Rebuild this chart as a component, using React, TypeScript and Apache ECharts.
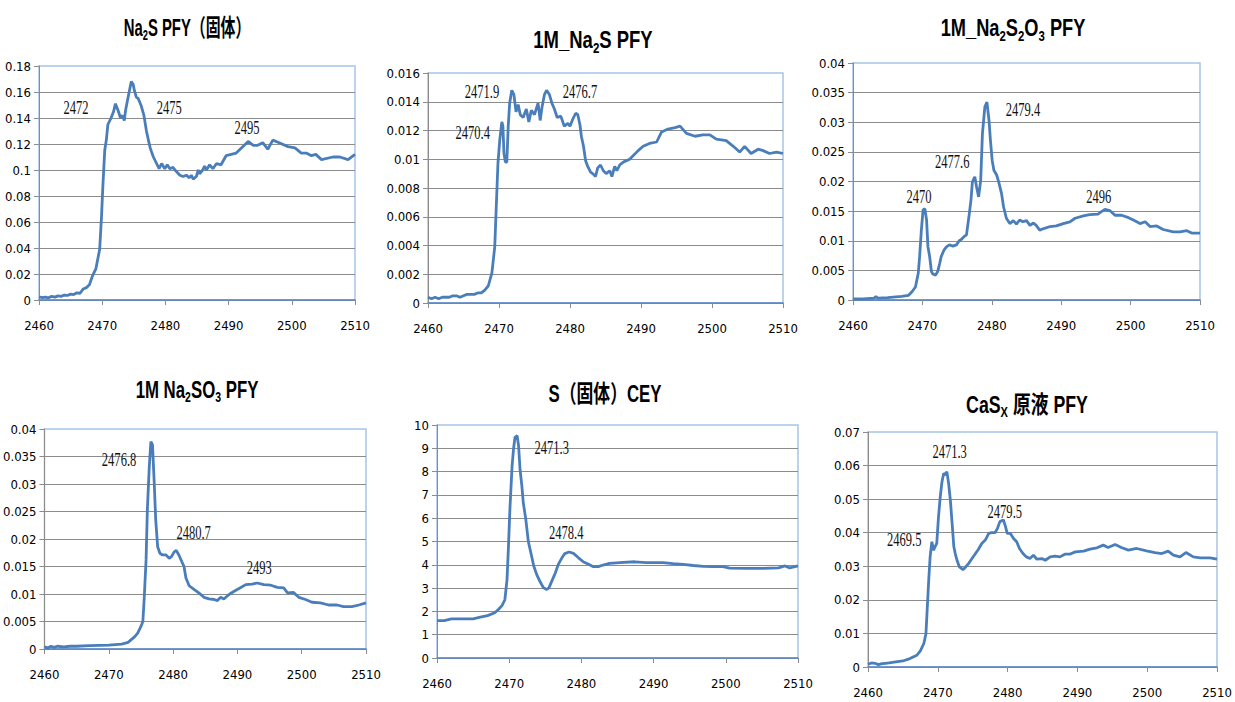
import React, { useEffect, useRef } from "react";
import * as echarts from "echarts";

// ---------- data ----------
const xTicks = { min: 2460, max: 2510, interval: 10 };

const na2sSolid: number[][] = [
  [2460, 0.0025], [2460.5, 0.0018], [2461, 0.0022], [2461.5, 0.0017], [2462, 0.0028], [2462.5, 0.0022], [2463, 0.0032], [2463.5, 0.0028],
  [2464, 0.0038], [2464.5, 0.0035], [2465, 0.0045], [2465.5, 0.0042], [2466, 0.0055], [2466.5, 0.0052], [2467, 0.0085], [2467.5, 0.0095],
  [2468, 0.012], [2468.5, 0.019], [2469, 0.024], [2469.6, 0.039], [2469.9, 0.065], [2470.1, 0.087], [2470.4, 0.115], [2470.65, 0.123],
  [2470.9, 0.135], [2471.4, 0.14], [2471.8, 0.145], [2472.1, 0.151], [2472.5, 0.146], [2472.9, 0.14], [2473.2, 0.142], [2473.5, 0.138],
  [2473.7, 0.146], [2474.1, 0.156], [2474.6, 0.168], [2474.9, 0.166], [2475.1, 0.161], [2475.4, 0.156], [2475.7, 0.155], [2476.2, 0.149],
  [2476.6, 0.142], [2477, 0.13], [2477.4, 0.121], [2477.6, 0.117], [2477.8, 0.114], [2478.1, 0.11], [2478.6, 0.105], [2479, 0.101],
  [2479.4, 0.105], [2479.9, 0.101], [2480.3, 0.104], [2480.7, 0.101], [2481.2, 0.102], [2481.7, 0.099], [2482.3, 0.096], [2482.8, 0.095],
  [2483.3, 0.096], [2483.8, 0.094], [2484.1, 0.096], [2484.4, 0.093], [2484.9, 0.095], [2485.2, 0.1], [2485.4, 0.097], [2485.9, 0.1],
  [2486.2, 0.103], [2486.5, 0.1], [2487, 0.104], [2487.5, 0.101], [2488.1, 0.105], [2488.8, 0.104], [2489.6, 0.111], [2491.2, 0.113],
  [2493.1, 0.122], [2493.9, 0.119], [2494.6, 0.119], [2495.4, 0.121], [2496.2, 0.116], [2497, 0.123], [2498, 0.121], [2499.4, 0.118],
  [2500.5, 0.117], [2501.5, 0.113], [2502.3, 0.113], [2503.1, 0.111], [2503.8, 0.112], [2504.7, 0.108], [2506.5, 0.11], [2507.6, 0.11],
  [2508.9, 0.108], [2510, 0.112],
];

const na2s1M: number[][] = [
  [2460, 0.0004], [2460.5, 0.0003], [2461, 0.0004], [2461.5, 0.0003], [2462, 0.0004], [2462.5, 0.0004], [2463, 0.0004], [2463.5, 0.0005],
  [2464, 0.0005], [2464.5, 0.0004], [2465, 0.0005], [2465.5, 0.0006], [2466, 0.0006], [2466.5, 0.0006], [2467, 0.0007], [2467.5, 0.0007],
  [2468, 0.0009], [2468.5, 0.0012], [2469, 0.0021], [2469.4, 0.0039], [2469.6, 0.0065], [2469.85, 0.0097], [2470.1, 0.0113], [2470.4, 0.0126],
  [2470.55, 0.0123], [2470.7, 0.0104], [2470.9, 0.0098], [2471.1, 0.0098], [2471.3, 0.0123], [2471.5, 0.0139], [2471.8, 0.0148], [2472.1, 0.0145],
  [2472.4, 0.0133], [2472.7, 0.0138], [2473, 0.0131], [2473.4, 0.0129], [2473.85, 0.0135], [2474.2, 0.0126], [2474.55, 0.0134], [2475, 0.0131],
  [2475.5, 0.0139], [2475.8, 0.0127], [2476.05, 0.0136], [2476.4, 0.0145], [2476.7, 0.0148], [2477.1, 0.0145], [2477.45, 0.0139], [2477.8, 0.0135],
  [2478.2, 0.0129], [2478.7, 0.013], [2479.2, 0.0123], [2479.7, 0.0125], [2480, 0.0123], [2480.4, 0.0128], [2480.8, 0.0132], [2481.1, 0.0131],
  [2481.4, 0.0124], [2481.6, 0.0116], [2481.9, 0.0109], [2482.2, 0.0099], [2482.5, 0.0095], [2482.9, 0.0091], [2483.2, 0.009], [2483.6, 0.0088],
  [2483.9, 0.0094], [2484.3, 0.0096], [2484.7, 0.0092], [2485.1, 0.009], [2485.6, 0.0092], [2485.9, 0.0088], [2486.3, 0.0095], [2486.6, 0.0092],
  [2487, 0.0096], [2487.5, 0.0098], [2488.4, 0.01], [2489.6, 0.0106], [2490.3, 0.0109], [2491.2, 0.0111], [2492.2, 0.0112], [2492.9, 0.0119],
  [2493.8, 0.0121], [2494.8, 0.0122], [2495.5, 0.0123], [2496.4, 0.0118], [2497.6, 0.0116], [2498.7, 0.0117], [2499.7, 0.0117], [2500.6, 0.0114],
  [2502, 0.0113], [2503, 0.0109], [2503.9, 0.0105], [2504.6, 0.0109], [2505.5, 0.0104], [2506.5, 0.0107], [2507.2, 0.0106], [2508.1, 0.0104],
  [2509.1, 0.0105], [2510, 0.0104],
];

const na2s2o31M: number[][] = [
  [2460, 0.0002], [2461.5, 0.0002], [2463, 0.0003], [2463.3, 0.0006], [2463.6, 0.0003], [2465, 0.0004], [2467, 0.0006], [2468, 0.0008],
  [2468.5, 0.0014], [2469, 0.0022], [2469.4, 0.0045], [2469.6, 0.0073], [2469.85, 0.0118], [2470.1, 0.0152], [2470.35, 0.0154], [2470.6, 0.0135],
  [2470.8, 0.009], [2471.05, 0.0073], [2471.3, 0.0048], [2471.5, 0.0044], [2471.9, 0.0042], [2472.2, 0.0048], [2472.5, 0.0062], [2472.7, 0.0073],
  [2473.1, 0.0084], [2473.5, 0.009], [2473.9, 0.0093], [2474.4, 0.0091], [2474.9, 0.0093], [2475.3, 0.01], [2475.6, 0.0102], [2476, 0.0107],
  [2476.35, 0.011], [2476.7, 0.014], [2477, 0.0169], [2477.2, 0.0199], [2477.55, 0.0208], [2477.8, 0.0191], [2478.1, 0.0174], [2478.4, 0.0202],
  [2478.65, 0.0281], [2479, 0.0326], [2479.3, 0.0334], [2479.6, 0.0303], [2479.8, 0.027], [2480.05, 0.0236], [2480.3, 0.0219], [2480.7, 0.0211],
  [2481, 0.0199], [2481.4, 0.018], [2481.7, 0.0157], [2482.1, 0.0138], [2482.6, 0.0129], [2483.1, 0.0134], [2483.55, 0.0128], [2484, 0.0135],
  [2484.5, 0.0132], [2485, 0.0134], [2485.5, 0.0126], [2486, 0.013], [2486.4, 0.0126], [2486.9, 0.0118], [2487.6, 0.0121], [2488.4, 0.0124],
  [2489.3, 0.0125], [2490.3, 0.0129], [2491.25, 0.0132], [2492, 0.0138], [2493.2, 0.0142], [2494.1, 0.0144], [2495.3, 0.0145], [2495.8, 0.0149],
  [2496.3, 0.0153], [2497, 0.0151], [2497.75, 0.0143], [2498.7, 0.0143], [2499.7, 0.0139], [2500.4, 0.0135], [2501.35, 0.0129], [2502.1, 0.0132],
  [2502.8, 0.0124], [2503.75, 0.0125], [2504.7, 0.0119], [2506.15, 0.0115], [2507.1, 0.0115], [2508.1, 0.0117], [2508.8, 0.0113], [2510, 0.0113],
];

const na2so31M: number[][] = [
  [2460, 0.0004], [2460.5, 0.0002], [2461, 0.0005], [2461.5, 0.0003], [2462, 0.0005], [2463, 0.0004], [2464, 0.0005], [2465, 0.0005],
  [2467, 0.0006], [2470, 0.0007], [2472, 0.0009], [2473, 0.0012], [2473.5, 0.0017], [2474, 0.0022], [2474.5, 0.0029], [2475, 0.0041],
  [2475.3, 0.005], [2475.5, 0.009], [2475.8, 0.0162], [2476, 0.0253], [2476.3, 0.0332], [2476.55, 0.0377], [2476.8, 0.0371], [2477.05, 0.0307],
  [2477.3, 0.0235], [2477.6, 0.0186], [2477.95, 0.0174], [2478.35, 0.0171], [2478.9, 0.0171], [2479.4, 0.0165], [2479.75, 0.0168], [2480.2, 0.0177],
  [2480.5, 0.0179], [2480.9, 0.0171], [2481.35, 0.0159], [2481.7, 0.015], [2482, 0.0129], [2482.5, 0.0115], [2483.3, 0.0108], [2484, 0.0102],
  [2484.8, 0.0094], [2485.6, 0.0091], [2486.4, 0.009], [2486.9, 0.0088], [2487.4, 0.0094], [2487.9, 0.0091], [2488.7, 0.0099], [2489.5, 0.0105],
  [2490.4, 0.0111], [2491.3, 0.0117], [2492.3, 0.0118], [2493.1, 0.012], [2494.1, 0.0117], [2495.2, 0.0116], [2496.2, 0.0112], [2497.2, 0.0111],
  [2497.8, 0.0102], [2498.7, 0.0103], [2499.55, 0.0094], [2500.6, 0.009], [2501.6, 0.0085], [2502.9, 0.0084], [2504.2, 0.008], [2505.5, 0.008],
  [2506.5, 0.0077], [2507.8, 0.0077], [2508.9, 0.008], [2510, 0.0084],
];

const sSolidCey: number[][] = [
  [2460, 1.6], [2461, 1.6], [2462, 1.68], [2465, 1.68], [2466, 1.75], [2467, 1.82], [2468, 1.94], [2468.5, 2.08],
  [2469, 2.25], [2469.4, 2.5], [2469.7, 3.37], [2469.9, 4.8], [2470.1, 6.4], [2470.4, 8.25], [2470.6, 8.97], [2470.8, 9.47],
  [2471.1, 9.54], [2471.3, 9.1], [2471.5, 8.1], [2471.75, 7.4], [2471.95, 6.67], [2472.3, 5.95], [2472.65, 5.0], [2473, 4.52],
  [2473.4, 3.95], [2473.8, 3.59], [2474.3, 3.26], [2474.75, 3.01], [2475.2, 2.94], [2475.5, 3.01], [2475.9, 3.3], [2476.4, 3.66],
  [2476.8, 4.02], [2477.3, 4.3], [2477.7, 4.48], [2478.3, 4.55], [2478.9, 4.49], [2479.6, 4.3], [2480.3, 4.12], [2481, 4.02],
  [2481.65, 3.92], [2482.35, 3.92], [2483, 3.99], [2483.9, 4.06], [2485.3, 4.09], [2487.4, 4.13], [2489, 4.09], [2491.3, 4.09],
  [2492.7, 4.05], [2494.1, 4.02], [2495.5, 3.97], [2496.9, 3.93], [2498.2, 3.92], [2499.6, 3.92], [2500.55, 3.86], [2502.9, 3.85],
  [2505.2, 3.85], [2507.3, 3.87], [2508.2, 3.95], [2508.85, 3.87], [2510, 3.95],
];

const casxPfy: number[][] = [
  [2460, 0.0008], [2460.5, 0.0012], [2461, 0.0011], [2461.5, 0.0007], [2462, 0.001], [2462.5, 0.0011], [2463, 0.0012], [2464, 0.0015],
  [2465, 0.0018], [2466, 0.0025], [2467, 0.0035], [2467.5, 0.0048], [2468, 0.007], [2468.3, 0.0099], [2468.45, 0.0159], [2468.7, 0.0259],
  [2468.9, 0.0328], [2469.15, 0.0373], [2469.4, 0.0348], [2469.6, 0.0358], [2469.85, 0.0368], [2470.1, 0.0447], [2470.35, 0.0507], [2470.6, 0.0552],
  [2470.85, 0.0577], [2471.1, 0.0572], [2471.3, 0.0582], [2471.55, 0.0547], [2471.8, 0.0497], [2472.05, 0.0428], [2472.3, 0.0358], [2472.5, 0.0338],
  [2472.75, 0.0318], [2473.1, 0.0298], [2473.6, 0.029], [2474, 0.0298], [2474.4, 0.0308], [2474.9, 0.0323], [2475.4, 0.0338], [2475.8, 0.035],
  [2476.3, 0.0368], [2476.8, 0.0378], [2477.3, 0.0398], [2477.7, 0.04], [2478.2, 0.04], [2478.55, 0.0413], [2478.9, 0.0433], [2479.4, 0.0438],
  [2479.7, 0.0418], [2479.95, 0.0398], [2480.4, 0.0398], [2480.85, 0.0383], [2481.3, 0.0373], [2481.7, 0.0353], [2482.2, 0.0338], [2482.7, 0.0328],
  [2483.2, 0.0323], [2483.7, 0.0333], [2484.2, 0.0321], [2484.9, 0.0323], [2485.4, 0.0318], [2486.1, 0.0328], [2486.8, 0.033], [2487.5, 0.0328],
  [2488.2, 0.0336], [2488.9, 0.0336], [2489.7, 0.0343], [2490.9, 0.0345], [2491.8, 0.0351], [2492.8, 0.0355], [2493.7, 0.0363], [2494.4, 0.0356],
  [2495.4, 0.0365], [2496.3, 0.0356], [2497.3, 0.0348], [2498.5, 0.0353], [2499.9, 0.0346], [2501.1, 0.0341], [2502.1, 0.0338], [2503, 0.0345],
  [2503.75, 0.0333], [2504.7, 0.0328], [2505.55, 0.0341], [2506.6, 0.0328], [2507.6, 0.0325], [2509, 0.0325], [2510, 0.0321],
];

// peak annotations: [x, y, label]
const ann1: [number, number, string][] = [[2465.85, 0.148, "2472"], [2480.6, 0.148, "2475"], [2492.9, 0.133, "2495"]];
const ann2: [number, number, string][] = [[2467.6, 0.01468, "2471.9"], [2481.4, 0.01468, "2476.7"], [2466.3, 0.01183, "2470.4"]];
const ann3: [number, number, string][] = [[2484.5, 0.0321, "2479.4"], [2474.3, 0.0233, "2477.6"], [2469.5, 0.0174, "2470"], [2495.4, 0.0174, "2496"]];
const ann4: [number, number, string][] = [[2471.6, 0.0345, "2476.8"], [2483.2, 0.0211, "2480.7"], [2493.4, 0.0149, "2493"]];
const ann5: [number, number, string][] = [[2475.9, 9.04, "2471.3"], [2477.9, 5.39, "2478.4"]];
const ann6: [number, number, string][] = [[2471.7, 0.0643, "2471.3"], [2479.6, 0.0462, "2479.5"], [2465.2, 0.0381, "2469.5"]];

// y axis ranges: [max, interval]
const yRanges: [number, number][] = [[0.18, 0.02], [0.016, 0.002], [0.04, 0.005], [0.04, 0.005], [10, 1], [0.07, 0.01]];

// titles (rich text: a = normal, s = subscript)
const titles = [
  "{a|Na}{s|2}{a|S PFY（固体）}",
  "{a|1M_Na}{s|2}{a|S PFY}",
  "{a|1M_Na}{s|2}{a|S}{s|2}{a|O}{s|3}{a| PFY}",
  "{a|1M Na}{s|2}{a|SO}{s|3}{a| PFY}",
  "{a|S（固体）CEY}",
  "{a|CaS}{s|X}{a| 原液 PFY}",
];

const seriesData = [na2sSolid, na2s1M, na2s2o31M, na2so31M, sSolidCey, casxPfy];
const annotations = [ann1, ann2, ann3, ann4, ann5, ann6];

// ---------- layout ----------
const grids = [
  { left: 39, top: 66, width: 316, height: 234 },
  { left: 428, top: 73, width: 355, height: 230 },
  { left: 853, top: 63, width: 347, height: 237 },
  { left: 43, top: 429, width: 323, height: 220 },
  { left: 437, top: 425, width: 361, height: 233 },
  { left: 868, top: 432, width: 349, height: 235 },
];
const titlePos = [[187, 28], [593, 40], [1013, 28], [197, 389], [605, 393], [1027, 404]];
const titleScale = [0.62, 0.77, 0.76, 0.7, 0.7, 0.74];

const NARROW = '"Liberation Sans Narrow", "DejaVu Sans Condensed", "Noto Sans CJK SC", sans-serif';
const TITLEF = '"Liberation Sans", "Noto Sans CJK JP", sans-serif';
const SERIF = '"Liberation Serif", "DejaVu Serif", serif';
const LINE = "#4A7EBB";
const GRIDC = "#8C8C8C";

export default function App() {
  const ref = useRef<HTMLDivElement>(null);
  useEffect(() => {
    if (!ref.current) return;
    const chart = echarts.init(ref.current, null, { renderer: "svg" });

    const xAxis: any[] = [];
    const yAxis: any[] = [];
    const series: any[] = [];
    grids.forEach((g, i) => {
      xAxis.push({
        type: "value", gridIndex: i, min: xTicks.min, max: xTicks.max, interval: xTicks.interval,
        axisLine: { show: true, onZero: false, lineStyle: { color: GRIDC, width: 1 } },
        axisTick: { show: true, length: 5, lineStyle: { color: GRIDC } },
        axisLabel: { margin: 19, fontFamily: NARROW, fontSize: 13, color: "#000", formatter: (v: number) => String(v) },
        splitLine: { show: false },
      });
      xAxis.push({
        type: "value", gridIndex: i, position: "top", min: xTicks.min, max: xTicks.max,
        axisLine: { show: true, lineStyle: { color: "#5A87C5", width: 1.5 } },
        axisTick: { show: false }, axisLabel: { show: false }, splitLine: { show: false },
      });
      yAxis.push({
        type: "value", gridIndex: i, min: 0, max: yRanges[i][0], interval: yRanges[i][1],
        axisLine: { show: true, lineStyle: { color: GRIDC, width: 1 } },
        axisTick: { show: true, length: 5, lineStyle: { color: GRIDC } },
        axisLabel: { margin: 8, fontFamily: NARROW, fontSize: 13, color: "#000" },
        splitLine: { show: true, showMaxLine: false, lineStyle: { color: GRIDC, width: 1 } },
      });
      series.push({
        type: "line", xAxisIndex: i * 2, yAxisIndex: i, data: seriesData[i], showSymbol: false,
        lineStyle: { color: LINE, width: 2.8 }, z: 3,
      });
      const ann = annotations[i];
      series.push({
        type: "custom", xAxisIndex: i * 2, yAxisIndex: i,
        data: ann.map((a) => [a[0], a[1]]),
        renderItem: (params: any, api: any) => {
          const p = api.coord([api.value(0), api.value(1)]);
          return {
            type: "text", x: p[0], y: p[1], scaleX: 0.66,
            style: {
              text: ann[params.dataIndex][2], align: "center", verticalAlign: "middle",
              fontFamily: SERIF, fontSize: 19, fill: "#111",
            },
          };
        },
        z: 4,
      });
    });

    const graphic = titles.map((t, i) => ({
      type: "text",
      x: titlePos[i][0], y: titlePos[i][1], scaleX: titleScale[i],
      style: {
        text: t, align: "center", verticalAlign: "middle", fill: "#000",
        rich: {
          a: { fontFamily: TITLEF, fontSize: 24, fontWeight: "bold", lineHeight: 30, fill: "#000" },
          s: { fontFamily: TITLEF, fontSize: 15, fontWeight: "bold", lineHeight: 15, verticalAlign: "bottom", fill: "#000" },
        },
      },
    }));

    chart.setOption({
      animation: false,
      backgroundColor: "#fff",
      grid: grids.map((g) => ({ ...g, show: true, borderColor: "#A6C3E8", borderWidth: 1.5, backgroundColor: "transparent" })),
      xAxis, yAxis, series, graphic,
    });
    return () => chart.dispose();
  }, []);
  return <div ref={ref} style={{ position: "absolute", left: 0, top: 0, width: 1235, height: 702, background: "#fff" }} />;
}
